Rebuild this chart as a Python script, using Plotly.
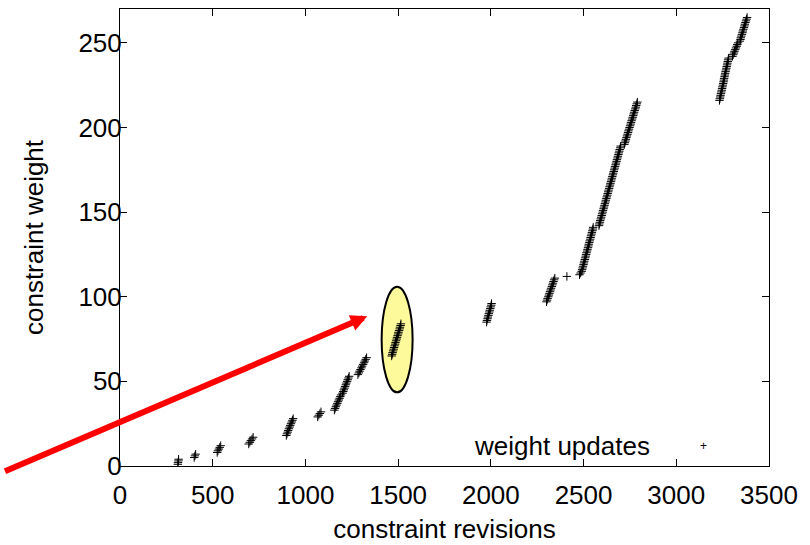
import plotly.graph_objects as go

# constraint revision at which each weight update happened
rev_c1 = [312, 313, 315, 316]
rev_c2 = [400, 404, 408]
rev_c3 = [524, 528, 533, 538, 543]
rev_c4 = [694, 700, 706, 712, 718]
rev_c5 = [897, 900, 904, 907, 911, 915, 918, 922, 926, 930, 934]
rev_c6 = [1066, 1072, 1078, 1084]
rev_c7 = [1156, 1160, 1164, 1168, 1172, 1176, 1180, 1184, 1188, 1192,
          1200, 1204, 1207, 1211, 1214, 1218, 1221, 1225, 1228, 1232, 1236]
rev_c8 = [1283, 1288, 1292, 1297, 1302, 1306, 1311, 1316, 1320, 1325, 1330]
rev_c9 = [1465, 1468, 1470, 1473, 1476, 1478, 1481, 1484, 1486, 1489,
          1492, 1494, 1497, 1500, 1502, 1505, 1508, 1510, 1513, 1515]
rev_c10 = [1977, 1979, 1982, 1984, 1987, 1989, 1992, 1994, 1997, 1999, 2002, 2004]
rev_c11 = [2300, 2303, 2306, 2310, 2313, 2316, 2319, 2322, 2325, 2329,
           2332, 2335, 2338, 2341, 2345]
rev_c12 = [2410]
rev_c13 = [2478, 2484,
           2490, 2492, 2495, 2497, 2500, 2502, 2504, 2507, 2509, 2512, 2514, 2516,
           2519, 2521, 2524, 2526, 2528, 2531, 2533, 2536, 2538, 2540, 2543, 2545,
           2548, 2550, 2552,
           2583, 2585, 2588, 2590, 2593, 2595, 2598, 2600, 2603, 2605, 2608, 2610,
           2613, 2615, 2618, 2620, 2623, 2625, 2628, 2630, 2633, 2635, 2638, 2640,
           2643, 2645, 2648, 2650, 2653, 2655, 2658, 2660, 2663, 2665, 2668, 2670,
           2673, 2675, 2678, 2680, 2683, 2685, 2688, 2690, 2693, 2695, 2698, 2700,
           2720, 2723, 2726, 2728, 2731, 2734, 2737, 2740, 2742, 2745, 2748, 2751,
           2754, 2756, 2759, 2762, 2765, 2768, 2770, 2773, 2776, 2779, 2782, 2784,
           2787, 2790]
rev_c14 = [3233, 3235, 3237, 3239, 3241, 3243, 3245, 3247, 3249, 3251, 3253, 3255,
           3257, 3258, 3260, 3262, 3264, 3266, 3268, 3270, 3272, 3274, 3276, 3278,
           3280, 3282,
           3303, 3307, 3311, 3314, 3318, 3322, 3326, 3329, 3333,
           3343, 3346, 3348, 3351, 3354, 3357, 3359, 3362, 3365, 3368, 3370, 3373,
           3376, 3379, 3382]

revisions = (rev_c1 + rev_c2 + rev_c3 + rev_c4 + rev_c5 + rev_c6 + rev_c7 + rev_c8
             + rev_c9 + rev_c10 + rev_c11 + rev_c12 + rev_c13 + rev_c14)
# each update raises the weight by one
weights = list(range(1, len(revisions) + 1))

x_ticks = [0, 500, 1000, 1500, 2000, 2500, 3000, 3500]
y_ticks = [0, 50, 100, 150, 200, 250]

# highlighted region and arrow target (data coordinates)
ellipse_x = [1411, 1578]
ellipse_y = [43.5, 105.9]
arrow_tip = [1333, 88.4]

FONT = "Liberation Sans, Arial, sans-serif"

fig = go.Figure()
fig.add_trace(go.Scatter(
    x=revisions, y=weights, mode="markers", name="weight updates",
    marker=dict(symbol="cross-thin", size=6, color="black",
                line=dict(width=1, color="black")),
    showlegend=False,
))

fig.add_shape(type="circle", xref="x", yref="y",
              x0=ellipse_x[0], x1=ellipse_x[1], y0=ellipse_y[0], y1=ellipse_y[1],
              fillcolor="#fdfa9c", line=dict(color="black", width=2), layer="below")

fig.add_annotation(x=arrow_tip[0], y=arrow_tip[1], xref="x", yref="y",
                   text=" ", showarrow=True, ax=-400, ay=157,
                   arrowcolor="#ff0000", arrowwidth=6, arrowhead=2, arrowsize=0.55,
                   standoff=0, startstandoff=0)

# key (text left of symbol, as in the original)
fig.add_annotation(x=652, y=446, xref="paper", yref="paper", text="weight updates",
                   showarrow=False, xanchor="right", yanchor="middle",
                   font=dict(family=FONT, size=26, color="black"))
fig.add_annotation(x=703, y=446, xref="paper", yref="paper", text="+",
                   showarrow=False, xanchor="center", yanchor="middle",
                   font=dict(family=FONT, size=12, color="black"))

axis_common = dict(showgrid=False, zeroline=False, showline=True, linecolor="black",
                   linewidth=1, mirror="ticks", ticks="inside", ticklen=7,
                   tickcolor="black", tickwidth=1, automargin=False,
                   tickfont=dict(family=FONT, size=26, color="black"))

fig.update_xaxes(range=[0, 3500], tickvals=x_ticks, ticktext=[str(v) for v in x_ticks],
                 ticklabelstandoff=6,
                 title=dict(text="constraint revisions", standoff=10,
                            font=dict(family=FONT, size=26, color="black")),
                 **axis_common)
fig.update_yaxes(range=[0, 270], tickvals=y_ticks, ticktext=[str(v) for v in y_ticks],
                 ticklabelstandoff=-8,
                 title=dict(text="constraint weight", standoff=27,
                            font=dict(family=FONT, size=26, color="black")),
                 **axis_common)

fig.update_layout(width=810, height=545, margin=dict(l=120, r=41, t=9, b=79),
                  paper_bgcolor="white", plot_bgcolor="white",
                  font=dict(family=FONT, size=26, color="black"))

# convert key positions from pixels to paper coordinates
pw, ph = 810 - 120 - 41, 545 - 9 - 79
for ann in fig.layout.annotations:
    if ann.xref == "paper":
        ann.x = (ann.x - 120) / pw
        ann.y = (545 - 79 - ann.y) / ph

fig.write_html("out.html", config={"displayModeBar": False},
               post_script="document.body.style.margin='0';document.body.style.overflow='hidden';")
